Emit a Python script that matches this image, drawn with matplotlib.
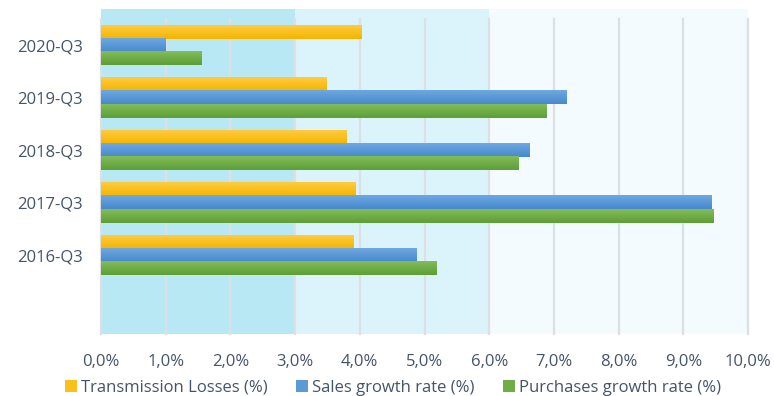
import matplotlib
matplotlib.use("Agg")
import matplotlib.pyplot as plt
import numpy as np
from matplotlib.colors import LinearSegmentedColormap
from matplotlib.patches import Patch

# ---- data ----
categories = ["2016-Q3", "2017-Q3", "2018-Q3", "2019-Q3", "2020-Q3"]
transmission_losses = [3.90, 3.94, 3.79, 3.49, 4.02]
sales_growth = [4.87, 9.43, 6.62, 7.20, 1.00]
purchases_growth = [5.19, 9.46, 6.45, 6.89, 1.55]
series_names = ["Transmission Losses (%)", "Sales growth rate (%)", "Purchases growth rate (%)"]
x_ticks = [0, 1, 2, 3, 4, 5, 6, 7, 8, 9, 10]
x_tick_labels = ["0,0%", "1,0%", "2,0%", "3,0%", "4,0%", "5,0%", "6,0%", "7,0%", "8,0%", "9,0%", "10,0%"]
band_edges = [0, 3, 6, 10]

# ---- styles ----
band_colors = ["#b9e8f5", "#dbf3fa", "#f3fbfe"]
grads = [("#ffcb40", "#f4b500"), ("#6fa8e0", "#4689cc"), ("#82bc5a", "#5e9f36")]
solid = ["#fbc01a", "#5b9bd5", "#70ad47"]
text_color = "#44546a"
grid_color = "#dcdfe3"
font = ["Open Sans", "DejaVu Sans"]
plt.rcParams["font.family"] = font
fs = 12

fig = plt.figure(figsize=(7.74, 3.96), dpi=100)
ax = fig.add_axes([101 / 774, (396 - 334) / 396, (748 - 101) / 774, (334 - 9) / 396])

pos = np.arange(1, len(categories) + 1)
top_extra = 10 / 52.4

for (a, b), c in zip(zip(band_edges[:-1], band_edges[1:]), band_colors):
    ax.axvspan(a, b, color=c, zorder=0, lw=0)

frac = (len(categories) + 1) / (len(categories) + 1 + top_extra)
for x in x_ticks:
    ax.axvline(x, ymin=0, ymax=frac, color=grid_color, lw=1.6, zorder=1, clip_on=False)

h = 0.255
offsets = [h, 0, -h]
series = [transmission_losses, sales_growth, purchases_growth]
grad_img = np.linspace(0, 1, 64).reshape(-1, 1)
for vals, off, (ct, cb), sc in zip(series, offsets, grads, solid):
    bars = ax.barh(pos + off, vals, height=h, color=sc, zorder=2, lw=0)
    cmap = LinearSegmentedColormap.from_list("g", [ct, cb])
    for bar in bars:
        x0, y0 = bar.get_x(), bar.get_y()
        w, hh = bar.get_width(), bar.get_height()
        ax.imshow(grad_img, cmap=cmap, aspect="auto",
                  extent=(x0, x0 + w, y0, y0 + hh), origin="upper",
                  zorder=3, interpolation="bilinear")

ax.set_ylim(-0.5, len(categories) + 0.5 + top_extra)
ax.set_xlim(band_edges[0], band_edges[-1])

for s in ax.spines.values():
    s.set_visible(False)
ax.set_yticks(pos)
ax.set_yticklabels(categories, fontsize=fs, color=text_color)
ax.set_xticks(x_ticks)
ax.set_xticklabels(x_tick_labels, fontsize=fs, color=text_color)
ax.tick_params(axis="both", length=0)
ax.tick_params(axis="y", pad=13)
ax.tick_params(axis="x", pad=14.5)

handles = [Patch(facecolor=c, edgecolor="none") for c in solid]
fig.legend(handles, series_names, loc="lower center", bbox_to_anchor=(0.508, -0.037), ncol=3,
           frameon=False, handlelength=0.72, handleheight=0.72, handletextpad=0.25,
           columnspacing=1.7, fontsize=fs, labelcolor=text_color)

fig.savefig("out.png", dpi=100)
